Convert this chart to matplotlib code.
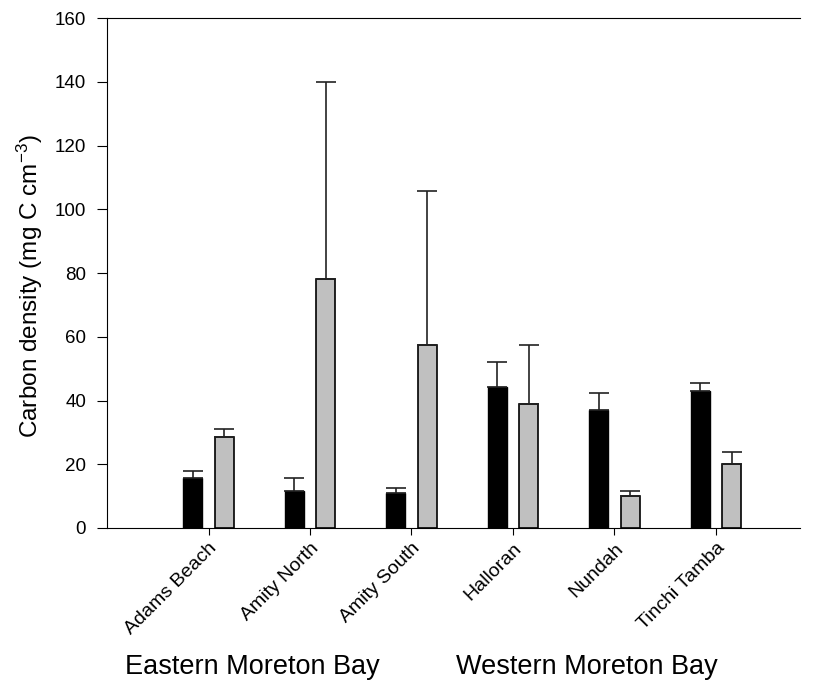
import numpy as np
import matplotlib
matplotlib.use("Agg")
import matplotlib.pyplot as plt

plt.rcParams['font.family'] = ['Liberation Sans', 'DejaVu Sans']
plt.rcParams['mathtext.default'] = 'regular'

# data
sites = ['Adams Beach', 'Amity North', 'Amity South', 'Halloran', 'Nundah', 'Tinchi Tamba']
black_vals = [15.6, 11.7, 10.9, 44.3, 37.0, 42.9]
black_err = [2.4, 4.1, 1.5, 7.8, 5.4, 2.6]
grey_vals = [28.5, 78.2, 57.5, 39.0, 10.0, 20.2]
grey_err = [2.7, 61.6, 48.2, 18.3, 1.6, 3.6]
groups = ['Eastern Moreton Bay', 'Western Moreton Bay']

fig = plt.figure(figsize=(8.14, 6.91), dpi=100)
ax = fig.add_axes([0.1315, 0.2359, 0.8515, 0.738])

x = np.arange(1, len(sites) + 1)
w = 0.19
ekw = dict(ecolor='#222222', elinewidth=1.2, capsize=7, capthick=1.2)
ax.bar(x - 0.155, black_vals, w, color='black', edgecolor='black', linewidth=1,
       yerr=[np.zeros(len(sites)), black_err], error_kw=ekw)
ax.bar(x + 0.155, grey_vals, w, color='#c0c0c0', edgecolor='black', linewidth=1.2,
       yerr=[np.zeros(len(sites)), grey_err], error_kw=ekw)

ax.set_xlim(0, 6.83)
ax.set_ylim(0, 160)
ax.set_yticks(np.arange(0, 161, 20))
ax.set_xticks(x)
ax.set_xticklabels(sites, rotation=45, ha='right', rotation_mode='anchor', fontsize=14)
ax.tick_params(axis='y', labelsize=13.5, direction='out', length=7, pad=8)
ax.tick_params(axis='x', direction='out', length=5)
ax.spines['right'].set_visible(False)
ax.set_ylabel('Carbon density (mg C cm$^{-3}$)', fontsize=17.5)
ax.yaxis.set_label_coords(-0.09, 0.475)

fig.text(0.31, 0.035, groups[0], fontsize=19.5, ha='center', va='center')
fig.text(0.721, 0.035, groups[1], fontsize=19.5, ha='center', va='center')

fig.savefig('out.png', dpi=100)
